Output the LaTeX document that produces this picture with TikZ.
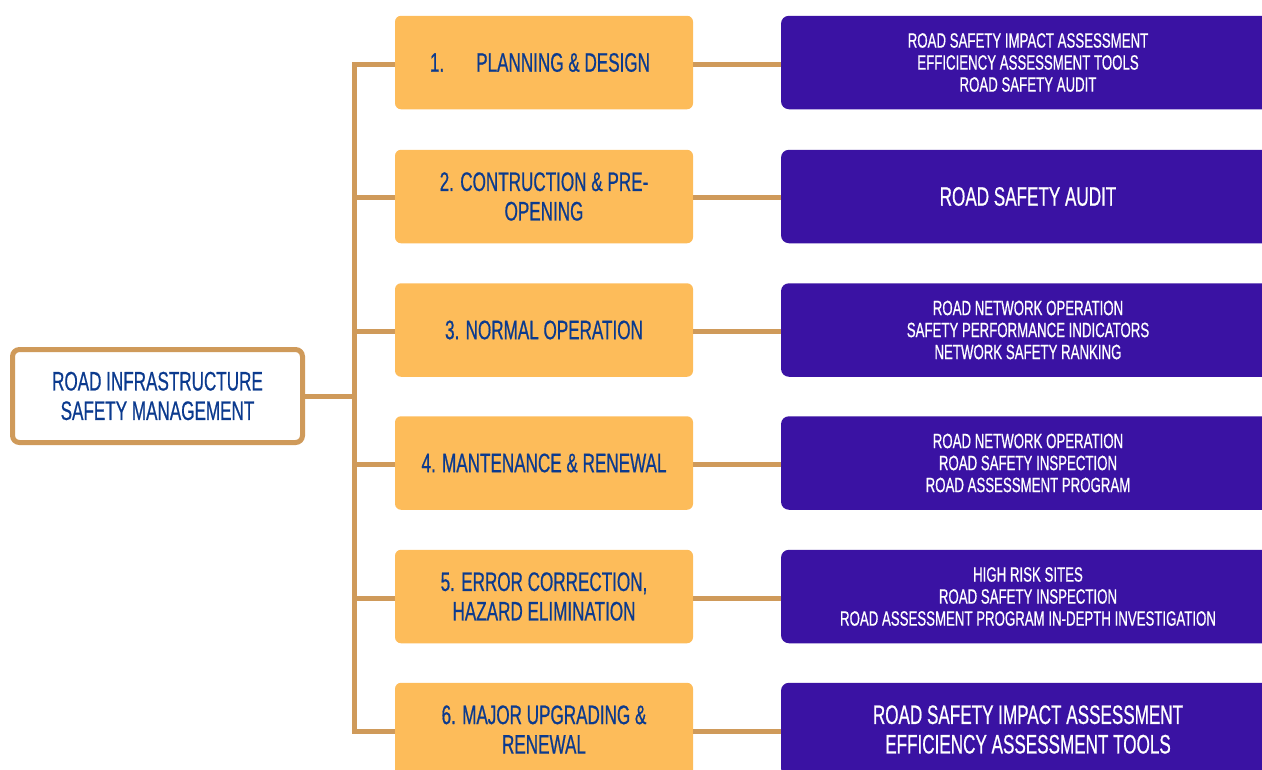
\documentclass[tikz,border=0pt]{standalone}
\usepackage{fontspec}
\setmainfont[FakeStretch=0.64,FakeBold=0.6]{Liberation Sans}
\definecolor{tan}{HTML}{CF9A5A}
\definecolor{orangebox}{HTML}{FDBC5A}
\definecolor{purplebox}{HTML}{3A12A3}
\definecolor{darkblue}{HTML}{0B3A8E}
\tikzset{
  big/.style={font=\fontsize{26.7}{29.5}\selectfont},
  small/.style={font=\fontsize{20.7}{22}\selectfont},
  rootbox/.style={draw=tan, line width=5pt, fill=white, rounded corners=7pt, minimum width=290pt, minimum height=93pt, inner sep=0pt, text=darkblue, align=center, big},
  stagebox/.style={fill=orangebox, rounded corners=6pt, minimum width=298pt, minimum height=93.5pt, inner sep=0pt, text=darkblue, align=center, big},
  toolbox/.style={fill=purplebox, rounded corners=8pt, minimum width=494pt, minimum height=93.5pt, inner sep=0pt, text=white, align=center},
  link/.style={draw=tan, line width=5pt}
}
\begin{document}
\begin{tikzpicture}[x=1pt,y=-1pt]
\useasboundingbox (0,0) rectangle (1262,769);
\clip (0,0) rectangle (1262,769);
% root
\node[rootbox] (root) at (157.5,396) {ROAD INFRASTRUCTURE\\SAFETY MANAGEMENT};
% stages
\node[stagebox] (o1) at (544,62.5) {\hspace*{-8pt}1.\hspace{32pt}PLANNING \& DESIGN};
\node[stagebox] (o2) at (544,196.5) {2. CONTRUCTION \& PRE-\\OPENING};
\node[stagebox] (o3) at (544,330) {3. NORMAL OPERATION};
\node[stagebox] (o4) at (544,463) {4. MANTENANCE \& RENEWAL};
\node[stagebox] (o5) at (544,596.5) {5. ERROR CORRECTION,\\HAZARD ELIMINATION};
\node[stagebox] (o6) at (544,729.5) {6. MAJOR UPGRADING \&\\RENEWAL};
% tools
\node[toolbox, small] (p1) at (1028,62.5) {ROAD SAFETY IMPACT ASSESSMENT\\EFFICIENCY ASSESSMENT TOOLS\\ROAD SAFETY AUDIT};
\node[toolbox, big] (p2) at (1028,196.5) {ROAD SAFETY AUDIT};
\node[toolbox, small] (p3) at (1028,330) {ROAD NETWORK OPERATION\\SAFETY PERFORMANCE INDICATORS\\NETWORK SAFETY RANKING};
\node[toolbox, small] (p4) at (1028,463) {ROAD NETWORK OPERATION\\ROAD SAFETY INSPECTION\\ROAD ASSESSMENT PROGRAM};
\node[toolbox, small] (p5) at (1028,596.5) {HIGH RISK SITES\\ROAD SAFETY INSPECTION\\ROAD ASSESSMENT PROGRAM IN-DEPTH INVESTIGATION};
\node[toolbox, big] (p6) at (1028,729.5) {ROAD SAFETY IMPACT ASSESSMENT\\EFFICIENCY ASSESSMENT TOOLS};
% trunk
\coordinate (j1) at (354,64);
\coordinate (j2) at (354,197.5);
\coordinate (j3) at (354,331);
\coordinate (j4) at (354,464);
\coordinate (j5) at (354,598);
\coordinate (j6) at (354,731);
\coordinate (jr) at (354,396);
\draw[link] (o1.west |- j1) -- (j1) -- (j6) -- (o6.west |- j6);
\draw[link] (root.east) -- (jr);
\draw[link] (j2) -- (o2.west |- j2);
\draw[link] (j3) -- (o3.west |- j3);
\draw[link] (j4) -- (o4.west |- j4);
\draw[link] (j5) -- (o5.west |- j5);
\draw[link] (o1.east |- j1) -- (p1.west |- j1);
\draw[link] (o2.east |- j2) -- (p2.west |- j2);
\draw[link] (o3.east |- j3) -- (p3.west |- j3);
\draw[link] (o4.east |- j4) -- (p4.west |- j4);
\draw[link] (o5.east |- j5) -- (p5.west |- j5);
\draw[link] (o6.east |- j6) -- (p6.west |- j6);
\end{tikzpicture}
\end{document}
